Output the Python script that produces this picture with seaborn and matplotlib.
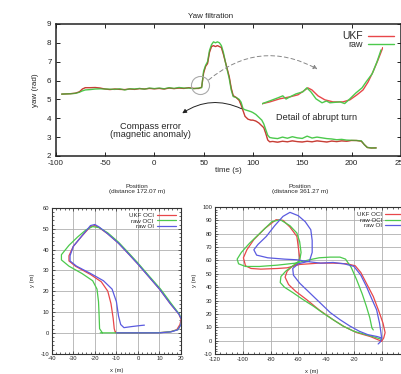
import numpy as np
import pandas as pd
import matplotlib
matplotlib.use("Agg")
import matplotlib.pyplot as plt
from matplotlib.ticker import MultipleLocator, AutoMinorLocator
import seaborn as sns

# yaw filtration (time in s, yaw in rad)
time_s = [-94, -85, -80, -76, -73, -70, -65, -60, -55, -50, -45, -40, -35, -30, -25,
          -20, -15, -10, -5, 0, 5, 10, 15, 20, 25, 30, 35, 40, 45, 48, 50, 52, 54,
          56, 58, 60, 62, 64, 66, 68, 70, 72, 74, 76, 78, 80, 83, 86, 88, 90, 92,
          95, 98, 100, 103, 106, 109, 111, 113, 115, 117, 120, 125, 130, 135, 140,
          145, 150, 155, 160, 165, 170, 175, 180, 185, 190, 195, 200, 205, 210,
          213, 216, 220, 225]
yaw_ukf = [5.28, 5.30, 5.33, 5.40, 5.55, 5.62, 5.62, 5.63, 5.60, 5.55, 5.52, 5.55,
           5.53, 5.52, 5.55, 5.53, 5.57, 5.55, 5.58, 5.56, 5.58, 5.55, 5.60, 5.57,
           5.60, 5.58, 5.62, 5.58, 5.58, 5.65, 6.40, 6.75, 6.90, 7.50, 7.80, 7.85,
           7.80, 7.85, 7.80, 7.75, 7.40, 7.00, 6.60, 6.20, 5.60, 5.20, 5.10, 4.95,
           4.70, 4.40, 4.10, 3.95, 3.90, 3.90, 3.85, 3.75, 3.60, 3.50, 3.20, 2.85,
           2.75, 2.77, 2.73, 2.78, 2.75, 2.80, 2.76, 2.74, 2.78, 2.75, 2.80, 2.77,
           2.74, 2.79, 2.76, 2.80, 2.78, 2.82, 2.82, 2.78, 2.60, 2.45, 2.42, 2.43]
yaw_raw = [5.28, 5.30, 5.32, 5.38, 5.45, 5.50, 5.52, 5.55, 5.56, 5.55, 5.54, 5.53,
           5.56, 5.50, 5.56, 5.55, 5.58, 5.54, 5.60, 5.57, 5.60, 5.56, 5.62, 5.58,
           5.63, 5.60, 5.60, 5.57, 5.60, 5.62, 6.50, 6.80, 7.00, 7.60, 7.90, 8.05,
           8.00, 8.05, 8.00, 7.85, 7.50, 7.00, 6.55, 6.10, 5.50, 5.15, 5.10, 5.00,
           4.85, 4.50, 4.45, 4.40, 4.35, 4.30, 4.20, 4.05, 3.90, 3.70, 3.40, 3.10,
           2.98, 2.95, 2.92, 3.00, 2.94, 3.02, 2.96, 2.93, 3.05, 2.95, 3.00, 2.96,
           2.92, 2.90, 2.86, 2.88, 2.84, 2.83, 2.82, 2.80, 2.60, 2.45, 2.43, 2.42]

# detail of the abrupt turn
detail_t_ukf = [44.0, 44.4, 44.89, 45.39, 45.79, 46.08, 46.28, 46.48, 46.78, 47.12,
                47.52, 48.02, 48.36, 48.71, 49.01, 49.26, 49.5, 49.75, 50.0]
detail_ukf = [5.508, 5.523, 5.547, 5.562, 5.578, 5.609, 5.632, 5.616, 5.570, 5.539,
              5.523, 5.523, 5.539, 5.578, 5.616, 5.678, 5.756, 5.849, 5.95]
detail_t_raw = [44.0, 44.4, 44.79, 45.04, 45.2, 45.39, 45.69, 46.03, 46.23, 46.43,
                46.68, 46.98, 47.2, 47.37, 47.87, 48.1, 48.36, 48.66, 48.96, 49.16,
                49.46, 49.7, 49.9]
detail_raw = [5.508, 5.531, 5.554, 5.570, 5.545, 5.562, 5.585, 5.601, 5.632, 5.601,
              5.547, 5.516, 5.530, 5.516, 5.523, 5.510, 5.547, 5.593, 5.632, 5.678,
              5.741, 5.834, 5.927]

# position, run 1 (distance 172.07 m)
p1_ukf_x = [-10.5, -10, 0, 10, 15, 18, 19.5, 20, 19, 15, 10, 5, 0, -4, -9, -14, -18,
            -20, -22, -26, -30, -32, -32, -29, -22, -17, -14, -12.5, -11.5, -11, -10.5]
p1_ukf_y = [0.3, 0, 0, 0.1, 0.5, 1.5, 4, 6.5, 9, 14, 21, 27, 33, 37.5, 43, 47.5, 50.5,
            51.5, 51, 46.5, 41.5, 37, 34.5, 32, 28, 24.5, 20, 14, 7, 2, 0.3]
p1_raw_x = [-17.5, -10, 0, 10, 15, 18.5, 20, 20.3, 19.2, 15.5, 10.5, 5, 0, -4, -9,
            -14, -18, -21, -24, -28, -32, -35.5, -35.5, -32, -26, -21, -19, -18.3,
            -18, -17.8, -16.5]
p1_raw_y = [0, 0, 0, 0.1, 0.5, 1.5, 4, 6.5, 9, 14, 21, 27.5, 33.5, 38, 43.5, 48, 50.5,
            51, 49.5, 46, 42, 37.5, 35, 32, 28.5, 25, 21, 15, 8, 2, 0]
p1_oi_x = [-10, 0, 10, 15.5, 18.5, 20, 20.2, 19, 15, 10, 5, 0, -4, -9, -14, -18, -20,
           -22, -26, -30, -31.5, -31.5, -28.5, -22, -16, -12, -10, -9, -8, -6.5, -3,
           1, 3]
p1_oi_y = [0, 0, 0, 0.5, 1.5, 4, 6.5, 9, 14, 21, 27, 33, 37.5, 43, 47.5, 50.8, 52,
           51.5, 46.5, 41.5, 37, 34.5, 32, 28.5, 25, 21, 15, 8, 4, 2.5, 3, 3.5, 3.7]

# position, run 2 (distance 361.27 m)
p2_ukf_x = [0, -8, -18, -27, -35, -45, -54, -62, -67, -69.5, -68, -65, -60, -59, -60,
            -61, -66, -71, -76, -84, -92, -97, -99.5, -98, -94, -87, -75, -68, -59,
            -45, -35, -25, -19, -15, -11, -6, -2, 1, 2.5, 1.5, 0]
p2_ukf_y = [-0.5, 3, 6, 10.5, 15.7, 23, 30.7, 37, 42, 47.5, 52, 55, 58, 62, 70, 78, 85,
            90, 90.5, 84, 75.6, 68, 62, 56, 54, 53.5, 54, 54.5, 57, 58, 58, 57.5, 56,
            51, 43, 33, 22, 13, 6, 2, -0.5]
p2_raw_x = [0, -8, -20, -28, -35, -42, -49, -57, -64, -70, -73, -72.5, -69, -64, -59,
            -58, -59, -61, -66, -73, -79, -87, -95, -101, -104, -103, -98, -88, -75,
            -62, -52, -45, -37, -30, -26, -22, -18, -14, -11, -8.5, -7, -6]
p2_raw_y = [1, 3.5, 7, 11, 15.7, 20.5, 25.7, 31, 36, 40, 43.5, 48, 52, 56, 60, 66, 74,
            80.5, 86, 90.5, 89, 81, 73, 66, 61, 57.5, 55.5, 55.5, 56.5, 58, 60.5, 62,
            62.5, 62.5, 61, 55, 45.6, 35, 25.7, 17, 9.5, 8]
p2_oi_x = [-2.5, -1, 0, -3, -10, -16, -23, -30, -37, -44, -51, -59, -63.5, -64, -60,
           -52, -50, -50, -51, -55, -60, -66, -71, -77, -83, -89, -92, -90, -82, -70,
           -61, -52, -44, -35, -27, -20, -15, -11, -7, -3.6, -1.5, -0.5, 0]
p2_oi_y = [-2.5, -1, 2, 3, 4.5, 7, 11, 15.7, 21, 28, 35, 43, 49, 54, 57.5, 59.5, 66,
           75, 83, 89, 93.5, 96, 93, 86, 78, 72, 68, 64, 62, 61, 60.5, 59, 58, 58.5,
           57.5, 55.6, 49, 40.6, 31, 23, 13, 6, 2]

RED = "#e8474a"
GREEN = "#4cc94c"
BLUE = "#5b5be0"

sns.set_theme(style="ticks")
plt.rcParams["font.family"] = ["Liberation Sans", "DejaVu Sans"]
plt.rcParams["axes.unicode_minus"] = False

fig = plt.figure(figsize=(4.01, 3.74), dpi=100)
fig.patch.set_facecolor("white")

# ---- top: yaw filtration
ax = fig.add_axes([0.139, 0.583, 0.8605, 0.353])
yaw = pd.DataFrame({"t": time_s, "ukf": yaw_ukf, "raw": yaw_raw})
sns.lineplot(data=yaw, x="t", y="ukf", color=RED, lw=1.0, label="UKF", ax=ax)
sns.lineplot(data=yaw, x="t", y="raw", color=GREEN, lw=1.0, label="raw", ax=ax)
sns.lineplot(data=yaw, x="t", y="ukf", color="#8a3a1a", lw=0.6, alpha=0.5, ax=ax)
ax.set_xlim(-100, 250)
ax.set_ylim(2, 9)
ax.xaxis.set_major_locator(MultipleLocator(50))
ax.yaxis.set_major_locator(MultipleLocator(1))
ax.tick_params(direction="in", top=True, right=True, labelsize=5.8, length=3,
               width=0.7, pad=3, colors="#222222")
for s in ax.spines.values():
    s.set_linewidth(1.1)
    s.set_color("#222222")
ax.set_xlabel("time (s)", fontsize=5.8, labelpad=0)
ax.set_ylabel("yaw (rad)", fontsize=5.8, labelpad=6)
ax.text(0.45, 1.03, "Yaw filtration", transform=ax.transAxes, ha="center",
        va="bottom", fontsize=5.8)
leg = ax.legend(loc="upper right", bbox_to_anchor=(0.995, 0.99), frameon=False,
                markerfirst=False, fontsize=6.5, handlelength=2.8,
                labelspacing=-0.1, borderaxespad=0.2, handletextpad=0.6)
leg.get_texts()[0].set_fontsize(7.5)

ax.plot([46], [5.77], marker="o", ms=13, mfc="none", mec="#aaaaaa", mew=0.8)
ax.annotate("", xy=(168, 6.53), xytext=(53, 5.94),
            arrowprops=dict(arrowstyle="-|>", color="#888888", lw=0.7, ls=(0, (4, 3)),
                            connectionstyle="arc3,rad=-0.35", mutation_scale=6))
ax.annotate("", xy=(26, 4.18), xytext=(91, 4.44),
            arrowprops=dict(arrowstyle="-|>", color="#222222", lw=0.7,
                            connectionstyle="arc3,rad=0.3", mutation_scale=6))
ax.text(-4, 3.33, "Compass error\n(magnetic anomaly)", ha="center", va="center",
        fontsize=6.6, linespacing=0.85)
ax.text(165, 4.05, "Detail of abrupt turn", ha="center", va="center", fontsize=6.6)

ins = ax.inset_axes([109, 4.71, 123, 3.07], transform=ax.transData)
sns.lineplot(x=detail_t_ukf, y=detail_ukf, color=RED, lw=1.0, ax=ins)
sns.lineplot(x=detail_t_raw, y=detail_raw, color=GREEN, lw=1.0, ax=ins)
ins.set_xlim(44, 50)
ins.set_ylim(5.5, 5.95)
ins.axis("off")

# ---- bottom panels
def position_panel(rect, xs, ys, xlim, ylim, xstep, ystep, title, tx):
    a = fig.add_axes(rect)
    for (x, y), c, lab in zip(zip(xs, ys), [RED, GREEN, BLUE],
                              ["UKF OCI", "raw OCI", "raw OI"]):
        sns.lineplot(x=x, y=y, sort=False, estimator=None, color=c, lw=0.9,
                     label=lab, ax=a)
    a.set_xlim(*xlim)
    a.set_ylim(*ylim)
    a.xaxis.set_major_locator(MultipleLocator(xstep))
    a.yaxis.set_major_locator(MultipleLocator(ystep))
    a.xaxis.set_minor_locator(AutoMinorLocator(5))
    a.yaxis.set_minor_locator(AutoMinorLocator(5))
    a.grid(True, which="major", color="#b0b0b0", lw=0.6)
    a.tick_params(which="both", direction="in", top=True, right=True,
                  labelsize=4.2, pad=2, width=0.5)
    a.tick_params(which="major", length=2.5)
    a.tick_params(which="minor", length=1.3)
    for s in a.spines.values():
        s.set_linewidth(0.8)
        s.set_color("#333333")
    a.set_xlabel("x (m)", fontsize=4.2, labelpad=5)
    a.set_ylabel("y (m)", fontsize=4.2, labelpad=4)
    a.legend(loc="upper right", frameon=False, markerfirst=False, fontsize=4.4,
             handlelength=3.2, labelspacing=0.05, borderaxespad=0.4,
             handletextpad=0.5)
    fig.text(tx, 0.495, title, ha="center", va="center", fontsize=4.6,
             linespacing=1.1)
    return a

position_panel([0.129, 0.0543, 0.3225, 0.390], [p1_ukf_x, p1_raw_x, p1_oi_x],
               [p1_ukf_y, p1_raw_y, p1_oi_y], (-40, 20), (-10, 60), 10, 10,
               "Position\n(distance 172.07 m)", 137 / 401)
position_panel([0.536, 0.0535, 0.485, 0.393], [p2_ukf_x, p2_raw_x, p2_oi_x],
               [p2_ukf_y, p2_raw_y, p2_oi_y], (-120, 20), (-10, 100), 20, 10,
               "Position\n(distance 361.27 m)", 300 / 401)

fig.savefig("out.png", dpi=100)
